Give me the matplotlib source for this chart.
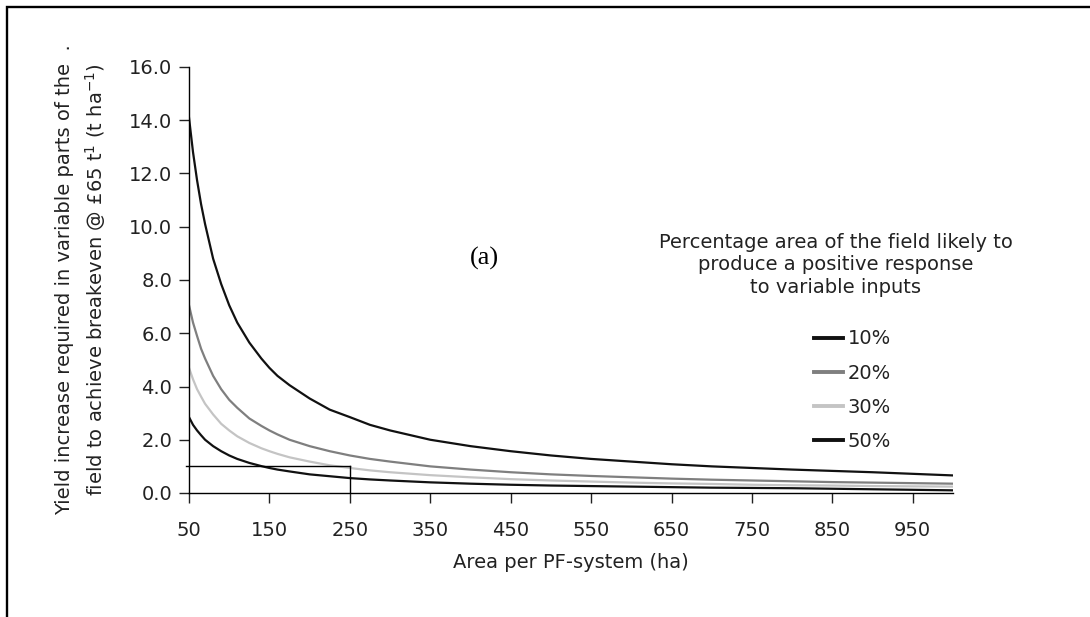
import numpy as np
import matplotlib
matplotlib.use('Agg')
import matplotlib.pyplot as plt
from matplotlib.patches import Rectangle

# area per PF-system (ha)
area = [50, 55, 60, 65, 70, 80, 90, 100, 110, 125, 140, 150, 160, 175, 200, 225, 250,
        275, 300, 350, 400, 450, 500, 550, 600, 650, 700, 750, 800, 850, 900, 950, 1000]

# yield increase required (t/ha)
pct_10 = [14.1, 12.8, 11.75, 10.85, 10.1, 8.8, 7.85, 7.05, 6.4, 5.65, 5.05, 4.7, 4.4,
          4.05, 3.55, 3.13, 2.85, 2.56, 2.35, 2.0, 1.76, 1.57, 1.41, 1.28, 1.18, 1.08,
          1.0, 0.94, 0.88, 0.83, 0.78, 0.72, 0.66]
pct_20 = [7.05, 6.4, 5.9, 5.42, 5.05, 4.4, 3.9, 3.5, 3.2, 2.8, 2.52, 2.35, 2.2,
          2.0, 1.76, 1.57, 1.41, 1.28, 1.18, 1.0, 0.88, 0.78, 0.70, 0.64, 0.59, 0.54,
          0.50, 0.47, 0.44, 0.41, 0.39, 0.37, 0.35]
pct_30 = [4.7, 4.27, 3.9, 3.62, 3.35, 2.95, 2.6, 2.35, 2.13, 1.88, 1.68, 1.57, 1.47,
          1.34, 1.18, 1.04, 0.94, 0.85, 0.78, 0.67, 0.59, 0.52, 0.47, 0.43, 0.39, 0.36,
          0.34, 0.31, 0.29, 0.28, 0.26, 0.25, 0.24]
pct_50 = [2.85, 2.56, 2.35, 2.17, 2.0, 1.76, 1.57, 1.41, 1.28, 1.13, 1.01, 0.94, 0.88,
          0.81, 0.70, 0.63, 0.56, 0.51, 0.47, 0.40, 0.35, 0.31, 0.28, 0.26, 0.24, 0.22,
          0.20, 0.19, 0.18, 0.16, 0.14, 0.12, 0.10]

labels = ['10%', '20%', '30%', '50%']
colours = ['#111111', '#7f7f7f', '#c4c4c4', '#111111']

xticks = [50, 150, 250, 350, 450, 550, 650, 750, 850, 950]
yticks = [0, 2, 4, 6, 8, 10, 12, 14, 16]

breakeven_y = 1.0
breakeven_x = 250

FS = 14
TXT = '#222222'

plt.rcParams['font.family'] = ['DejaVu Sans']
plt.rcParams['mathtext.fontset'] = 'dejavusans'

fig = plt.figure(figsize=(10.9, 6.17), dpi=100)
ax = fig.add_axes([189/1090, 1-493/617, (953-189)/1090, (493-67)/617])

# frame round the figure (right and bottom edges run off the image)
fig.patches.append(Rectangle((7/1090, -0.1), 1.2, 1-7/617+0.1, transform=fig.transFigure,
                             fill=False, lw=1.7, edgecolor='black'))

for ys, lab, c in zip([pct_10, pct_20, pct_30, pct_50], labels, colours):
    ax.plot(area, ys, color=c, lw=1.6, label=lab)

ax.plot([46, breakeven_x], [breakeven_y, breakeven_y], color='black', lw=1.0, clip_on=False)
ax.plot([breakeven_x, breakeven_x], [0, breakeven_y], color='black', lw=1.0)

ax.set_xlim(50, 1000)
ax.set_ylim(0, 16)
ax.set_xticks(xticks)
ax.set_yticks(yticks)
ax.set_yticklabels(['%.1f' % v for v in yticks])
for s in ['top', 'right']:
    ax.spines[s].set_visible(False)
for s in ['left', 'bottom']:
    ax.spines[s].set_linewidth(1.0)
ax.tick_params(direction='out', length=7, width=1.0, labelsize=FS, colors=TXT)
ax.tick_params(axis='y', pad=5)
ax.tick_params(axis='x', pad=13)

ax.set_xlabel('Area per PF-system (ha)', fontsize=FS, color=TXT)
ax.xaxis.set_label_coords(0.5, -(562-493)/426, transform=ax.transAxes)
ax.xaxis.label.set_va('center')
ax.set_ylabel('Yield increase required in variable parts of the  .\n'
              'field to achieve breakeven @ £65 t$^{1}$ (t ha$^{-1}$)',
              fontsize=FS, color=TXT, linespacing=1.45)
ax.yaxis.set_label_coords(-(189-81.5)/764, 0.5, transform=ax.transAxes)
ax.yaxis.label.set_va('center')

ax.text(417, 8.8, '(a)', family='Liberation Serif', fontsize=19, ha='center', va='center')

fig.text(836/1090, 1-265/617,
         'Percentage area of the field likely to\nproduce a positive response\nto variable inputs',
         ha='center', va='center', fontsize=FS, color=TXT, linespacing=1.21)

leg = ax.legend(loc='upper left', bbox_to_anchor=(796/1090, 1-312/617),
                bbox_transform=fig.transFigure, frameon=False, fontsize=FS,
                handlelength=1.5, handletextpad=0.25, labelspacing=0.78)
for h in leg.get_lines():
    h.set_linewidth(2.8)
for t in leg.get_texts():
    t.set_color(TXT)

fig.savefig('out.png', dpi=100)
